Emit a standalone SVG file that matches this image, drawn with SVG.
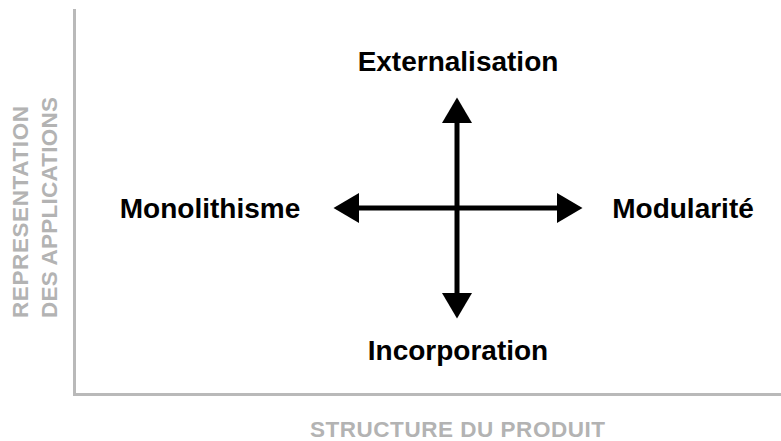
<svg xmlns="http://www.w3.org/2000/svg" width="781" height="441" viewBox="0 0 781 441">
  <style>
    .axis { stroke: #b9b9b9; stroke-width: 3; fill: none; }
    .axislbl { font-family: "Liberation Sans", Arial, Helvetica, sans-serif; font-weight: bold; font-size: 22.5px; fill: #b3b3b3; }
    .lbl { font-family: "Liberation Sans", Arial, Helvetica, sans-serif; font-weight: bold; font-size: 28px; fill: #000000; text-anchor: middle; }
    .conn { stroke: #000000; stroke-width: 5; fill: none; }
  </style>
  <defs>
    <marker id="head" markerUnits="userSpaceOnUse" markerWidth="26" markerHeight="30" refX="0" refY="15" orient="auto-start-reverse" viewBox="0 0 26 30">
      <path d="M0,0 L25.5,15 L0,30 Z" fill="#000000"/>
    </marker>
  </defs>
  <rect width="781" height="441" fill="#ffffff"/>
  <g id="axes">
    <polyline class="axis" points="74.5,9 74.5,394.5 781,394.5"/>
    <text class="axislbl" x="310" y="437" textLength="295" lengthAdjust="spacing">STRUCTURE DU PRODUIT</text>
    <text class="axislbl" transform="translate(28,318) rotate(-90)" x="0" y="0" textLength="212" lengthAdjust="spacing">REPRESENTATION</text>
    <text class="axislbl" transform="translate(57,318) rotate(-90)" x="0" y="0" textLength="221" lengthAdjust="spacing">DES APPLICATIONS</text>
  </g>
  <g id="connectors">
    <line class="conn" x1="457" y1="123" x2="457" y2="293" marker-start="url(#head)" marker-end="url(#head)"/>
    <line class="conn" x1="359" y1="208" x2="557" y2="208" marker-start="url(#head)" marker-end="url(#head)"/>
  </g>
  <g id="externalisation"><text class="lbl" x="458" y="71">Externalisation</text></g>
  <g id="monolithisme"><text class="lbl" x="210" y="218">Monolithisme</text></g>
  <g id="modularite"><text class="lbl" x="683" y="218">Modularité</text></g>
  <g id="incorporation"><text class="lbl" x="458" y="360">Incorporation</text></g>
</svg>
